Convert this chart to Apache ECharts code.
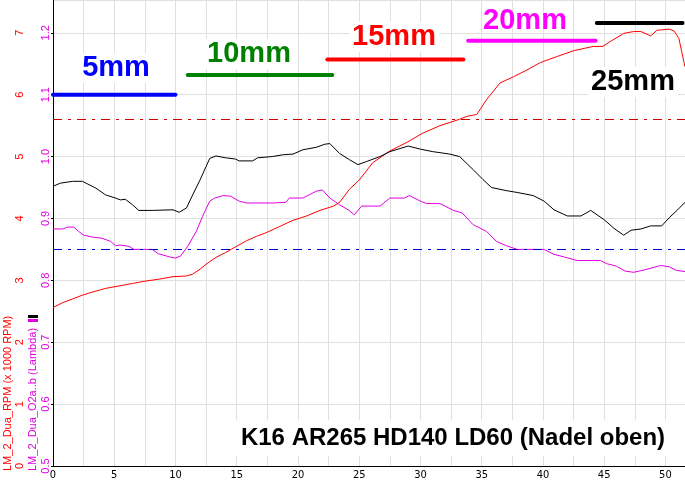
<!DOCTYPE html>
<html>
<head>
<meta charset="utf-8">
<script src="https://cdn.jsdelivr.net/npm/echarts@6/dist/echarts.min.js"></script>
<style>
html,body{margin:0;padding:0;background:#fff;}
#chart{width:685px;height:484px;}
</style>
</head>
<body>
<div id="chart"></div>
<script>
// ---- data ----
const rpmX = [0,0.8,1.6,2.4,3.2,4.3,5.4,6.5,7.6,8.7,9.8,10.9,11.4,12.0,12.5,13.3,14.1,14.9,15.8,16.6,17.4,18.5,19.6,20.7,21.8,22.9,23.4,24.2,25.0,26.1,27.5,28.9,30.2,31.6,33.0,33.8,34.6,35.4,36.5,37.6,38.7,39.8,41.2,42.5,44.1,44.9,45.5,46.6,47.4,48.0,48.8,49.3,50.3,50.7,51.1,51.5,51.6];
const rpmY = [2.56,2.64,2.70,2.76,2.81,2.87,2.91,2.95,2.99,3.02,3.06,3.07,3.10,3.18,3.26,3.37,3.45,3.54,3.64,3.71,3.77,3.87,3.97,4.04,4.13,4.20,4.26,4.47,4.62,4.90,5.09,5.23,5.38,5.50,5.59,5.65,5.68,5.92,6.19,6.29,6.40,6.52,6.62,6.71,6.78,6.78,6.86,6.99,7.02,7.02,6.95,7.04,7.06,7.03,6.91,6.54,6.45];

const blackX = [0,0.6,1.6,2.4,2.7,3.5,4.3,5.1,5.5,5.9,6.5,7.0,8.1,9.8,10.3,10.9,11.4,12.0,12.5,12.8,13.3,14.1,14.9,15.2,16.3,16.7,17.9,18.8,19.6,20.4,21.5,22.2,22.6,23.4,24.2,24.9,25.6,26.7,27.5,29.0,30.0,31.0,32.4,33.2,34.3,35.1,35.8,37.0,37.9,39.2,40.1,40.9,42.0,43.1,43.9,45.0,45.8,46.6,47.2,48.0,48.8,49.7,50.3,51.0,51.7];
const blackY = [0.952,0.957,0.960,0.960,0.957,0.949,0.938,0.933,0.930,0.931,0.922,0.913,0.913,0.914,0.910,0.917,0.938,0.962,0.984,0.997,1.001,0.998,0.996,0.993,0.993,0.998,1.0,1.003,1.004,1.011,1.015,1.020,1.021,1.005,0.995,0.987,0.992,1.0,1.008,1.017,1.012,1.008,1.004,1.0,0.979,0.963,0.950,0.945,0.942,0.937,0.928,0.914,0.904,0.904,0.913,0.898,0.884,0.873,0.881,0.883,0.888,0.888,0.901,0.914,0.928];

const lambdaX = [0,0.8,1.2,1.7,2.1,2.5,3.2,4.0,4.7,5.1,5.5,6.2,6.6,8.1,8.6,9.5,10.0,10.4,11.0,11.7,12.2,12.8,13.2,13.9,14.5,15.2,15.8,17.9,19.0,19.3,20.4,21.5,22.0,22.6,23.4,24.1,24.6,25.2,26.7,27.5,28.7,29.1,30.0,30.5,31.6,32.7,33.4,34.3,35.4,36.2,37.0,37.9,40.1,40.9,41.7,42.8,44.7,45.2,46.0,46.7,47.4,48.1,48.9,49.6,50.3,50.9,51.7];
const lambdaY = [0.883,0.883,0.886,0.886,0.879,0.873,0.870,0.868,0.863,0.856,0.857,0.855,0.850,0.850,0.843,0.838,0.836,0.839,0.855,0.879,0.903,0.928,0.933,0.937,0.936,0.928,0.925,0.925,0.926,0.933,0.933,0.944,0.946,0.933,0.922,0.914,0.906,0.920,0.920,0.933,0.933,0.937,0.928,0.924,0.924,0.913,0.909,0.890,0.879,0.863,0.856,0.850,0.850,0.842,0.838,0.832,0.832,0.827,0.823,0.815,0.813,0.816,0.820,0.824,0.822,0.816,0.814];

const refLevels = [1.058, 0.854];

const bandLabels = ['5mm','10mm','15mm','20mm','25mm'];
const bandStart = [0, 11.0, 22.4, 33.9, 44.4];
const bandEnd = [10.0, 22.8, 33.5, 44.3, 51.4];
const bandLevel = [6.0, 6.32, 6.57, 6.87, 7.16];

const xTicks = [0,5,10,15,20,25,30,35,40,45,50];
const titleText = 'K16 AR265 HD140 LD60 (Nadel oben)';
const rpmName = 'LM_2_Dua_RPM (x 1000 RPM)';
const lambdaName = 'LM_2_Dua_O2a..b (Lambda)';

// ---- styles ----
const bandColors = ['#0000ff','#008000','#ff0000','#ff00ff','#000000'];
const bandTextPos = [[116,68],[249,54],[394,37],[525,21],[633,82]];
const bandTextBg = [true, true, true, false, true];

const zip = (xs, ys) => xs.map((x, i) => [x, ys[i]]);

const chart = echarts.init(document.getElementById('chart'), null, {renderer: 'canvas'});

const bandSeries = bandLabels.map((name, i) => ({
  type: 'line', name: name, yAxisIndex: 0,
  data: [[bandStart[i], bandLevel[i]], [bandEnd[i], bandLevel[i]]],
  showSymbol: false, silent: true, z: 5,
  lineStyle: {color: bandColors[i], width: 4, cap: 'round'}
}));

const graphics = bandLabels.map((name, i) => ({
  type: 'text', x: bandTextPos[i][0], y: bandTextPos[i][1], z: 100,
  style: Object.assign({text: name, fill: bandColors[i], font: 'bold 29px "Liberation Sans", Arial, sans-serif',
    textAlign: 'center', textVerticalAlign: 'middle'},
    bandTextBg[i] ? {backgroundColor: '#fff', padding: [0, 3], lineHeight: 30} : {})
}));
graphics.push({
  type: 'text', x: 453, y: 438, z: 100,
  style: {text: titleText, fill: '#000', font: 'bold 24px "Liberation Sans", Arial, sans-serif',
    textAlign: 'center', textVerticalAlign: 'middle', backgroundColor: '#fff', padding: [6, 6]}
});
graphics.push({
  type: 'text', x: 8, y: 471, rotation: Math.PI / 2, z: 100,
  style: {text: rpmName, fill: '#ff0000', font: '11px "Liberation Sans", Arial, sans-serif',
    textAlign: 'left', textVerticalAlign: 'middle'}
});
graphics.push({
  type: 'text', x: 33, y: 471, rotation: Math.PI / 2, z: 100,
  style: {text: lambdaName, fill: '#e000e0', font: '11px "Liberation Sans", Arial, sans-serif',
    textAlign: 'left', textVerticalAlign: 'middle'}
});
graphics.push({type: 'rect', shape: {x: 28, y: 315, width: 10, height: 3}, style: {fill: '#000'}, z: 100});
graphics.push({type: 'rect', shape: {x: 28, y: 319, width: 10, height: 3}, style: {fill: '#e000e0'}, z: 100});

chart.setOption({
  animation: false,
  backgroundColor: '#fff',
  grid: {left: 53, right: 0, top: 0, bottom: 18, containLabel: false},
  xAxis: {
    type: 'value', min: 0, max: 51.6, interval: 2.5,
    axisLine: {show: true, lineStyle: {color: '#000', width: 1}},
    axisTick: {show: false},
    axisLabel: {
      color: '#000', fontSize: 11, margin: 4,
      fontFamily: '"Liberation Sans Narrow", "DejaVu Sans Condensed", sans-serif',
      showMaxLabel: false,
      formatter: v => (xTicks.indexOf(v) >= 0 ? String(v) : '')
    },
    splitLine: {show: true, lineStyle: {color: '#e0e0e0', width: 1}}
  },
  yAxis: [
    {
      type: 'value', min: 0, max: 7.53, interval: 1, position: 'left', offset: 27,
      axisLine: {show: false},
      axisTick: {show: true, length: 2, lineStyle: {color: '#000'}},
      axisLabel: {color: '#ff0000', fontSize: 11, rotate: 90, margin: 1, showMaxLabel: false,
        fontFamily: '"Liberation Sans", Arial, sans-serif'},
      splitLine: {show: true, lineStyle: {color: '#e0e0e0', width: 1}}
    },
    {
      type: 'value', min: 0.5, max: 1.253, interval: 0.1, position: 'left', offset: 0,
      axisLine: {show: true, lineStyle: {color: '#000', width: 1}},
      axisTick: {show: false},
      axisLabel: {color: '#e000e0', fontSize: 11, rotate: 90, margin: 2, showMaxLabel: false,
        fontFamily: '"Liberation Sans", Arial, sans-serif',
        formatter: v => v.toFixed(1)},
      splitLine: {show: false}
    }
  ],
  series: [
    {
      type: 'line', name: 'RPM', yAxisIndex: 0, data: zip(rpmX, rpmY),
      showSymbol: false, lineStyle: {color: '#ff0000', width: 1}, z: 3
    },
    {
      type: 'line', name: 'O2a', yAxisIndex: 1, data: zip(blackX, blackY),
      showSymbol: false, lineStyle: {color: '#000000', width: 1}, z: 3
    },
    {
      type: 'line', name: 'O2b', yAxisIndex: 1, data: zip(lambdaX, lambdaY),
      showSymbol: false, lineStyle: {color: '#e000e0', width: 1}, z: 3,
      markLine: {
        silent: true, symbol: 'none', label: {show: false},
        lineStyle: {type: [9, 6, 3, 6], width: 1},
        data: [
          {yAxis: refLevels[0], lineStyle: {color: '#cc0000', type: [9, 6, 3, 6], width: 1}},
          {yAxis: refLevels[1], lineStyle: {color: '#0000cc', type: [9, 6, 3, 6], width: 1}}
        ]
      }
    }
  ].concat(bandSeries),
  graphic: graphics
});
</script>
</body>
</html>
